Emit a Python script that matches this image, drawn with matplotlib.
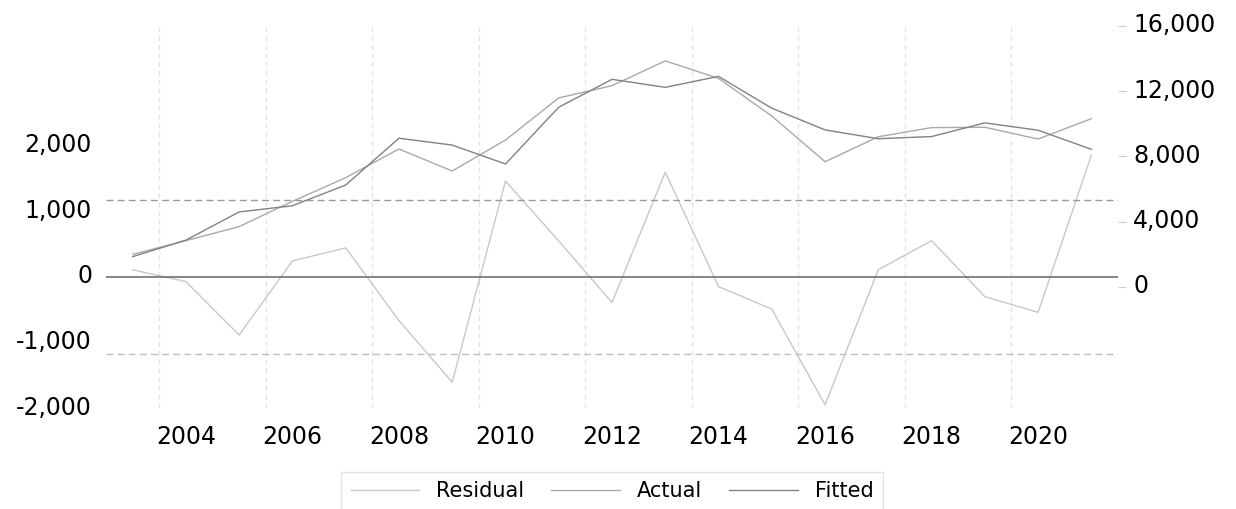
import matplotlib
matplotlib.use("Agg")
import matplotlib.pyplot as plt
from matplotlib.lines import Line2D
from matplotlib.transforms import ScaledTranslation

years = list(range(2003, 2022))
actual = [2000, 2840, 3700, 5250, 6700, 8460, 7110, 9010, 11590, 12340,
          13860, 12790, 10480, 7680, 9210, 9770, 9790, 9070, 10320]
fitted = [1860, 2870, 4600, 4980, 6250, 9120, 8700, 7540, 11020, 12730,
          12240, 12910, 10960, 9630, 9090, 9220, 10060, 9610, 8440]
residual = [110, -70, -885, 245, 445, -665, -1605, 1465, 550, -390,
            1600, -145, -490, -1950, 110, 555, -300, -540, 1860]
resid_se = 1170
left_ticks = [-2000, -1000, 0, 1000, 2000]
right_ticks = [0, 4000, 8000, 12000, 16000]
x_labels = list(range(2004, 2021, 2))

C_RES, C_ACT, C_FIT = "#c8c8c8", "#a9a9a9", "#828282"

plt.rcParams["font.family"] = ["DejaVu Sans"]

fig = plt.figure(figsize=(12.36, 5.09), dpi=100)
ax = fig.add_axes([106 / 1236, 1 - 408 / 509, (1118 - 106) / 1236, (408 - 26) / 509])
ax2 = ax.twinx()

ax.plot(years, residual, color=C_RES, lw=1.0)
ax.axhline(0, color="#666666", lw=1.1)
ax.axhline(resid_se, color="#9a9a9a", lw=1.0, ls=(0, (5, 3)))
ax.axhline(-resid_se, color="#bdbdbd", lw=1.0, ls=(0, (5, 3)))

ax2.plot(years, actual, color=C_ACT, lw=1.0)
ax2.plot(years, fitted, color=C_FIT, lw=1.0)

ax.set_xlim(2002.5, 2021.5)
ax.set_ylim(-2000, 3832)
ax2.set_ylim(-7420, 16000)

ax.set_xticks(x_labels)
ax.set_xticks([y + 0.5 for y in range(2003, 2020, 2)], minor=True)
ax.grid(which="minor", axis="x", color="#e2e2e2", lw=0.9, ls=(0, (4, 3)))
ax.set_yticks(left_ticks)
ax.set_yticklabels([f"{v:,}" for v in left_ticks])
ax2.set_yticks(right_ticks)
ax2.set_yticklabels([f"{v:,}" for v in right_ticks])

ax.tick_params(axis="x", which="both", length=0, pad=12, labelsize=17)
ax.tick_params(axis="y", length=0, pad=10, labelsize=17)
ax2.tick_params(axis="y", length=6, width=0.8, color="#cccccc", pad=5, labelsize=17)

for a in (ax, ax2):
    for s in a.spines.values():
        s.set_visible(False)

up = ScaledTranslation(0, 3 / 100, fig.dpi_scale_trans)
for lab in ax.get_yticklabels() + ax2.get_yticklabels():
    lab.set_transform(lab.get_transform() + up)

handles = [Line2D([], [], color=C_RES, lw=1.0),
           Line2D([], [], color=C_ACT, lw=1.0),
           Line2D([], [], color=C_FIT, lw=1.0)]
leg = fig.legend(handles, ["Residual", "Actual", "Fitted"], ncol=3,
                 loc="upper center", bbox_to_anchor=(612 / 1236, 1 - 472 / 509),
                 borderaxespad=0, fontsize=15, frameon=True, fancybox=False,
                 handlelength=3.3, handletextpad=0.8, columnspacing=1.3,
                 borderpad=0.45)
leg.get_frame().set_edgecolor("#dddddd")
leg.get_frame().set_linewidth(1.0)

fig.savefig("out.png", dpi=100)
